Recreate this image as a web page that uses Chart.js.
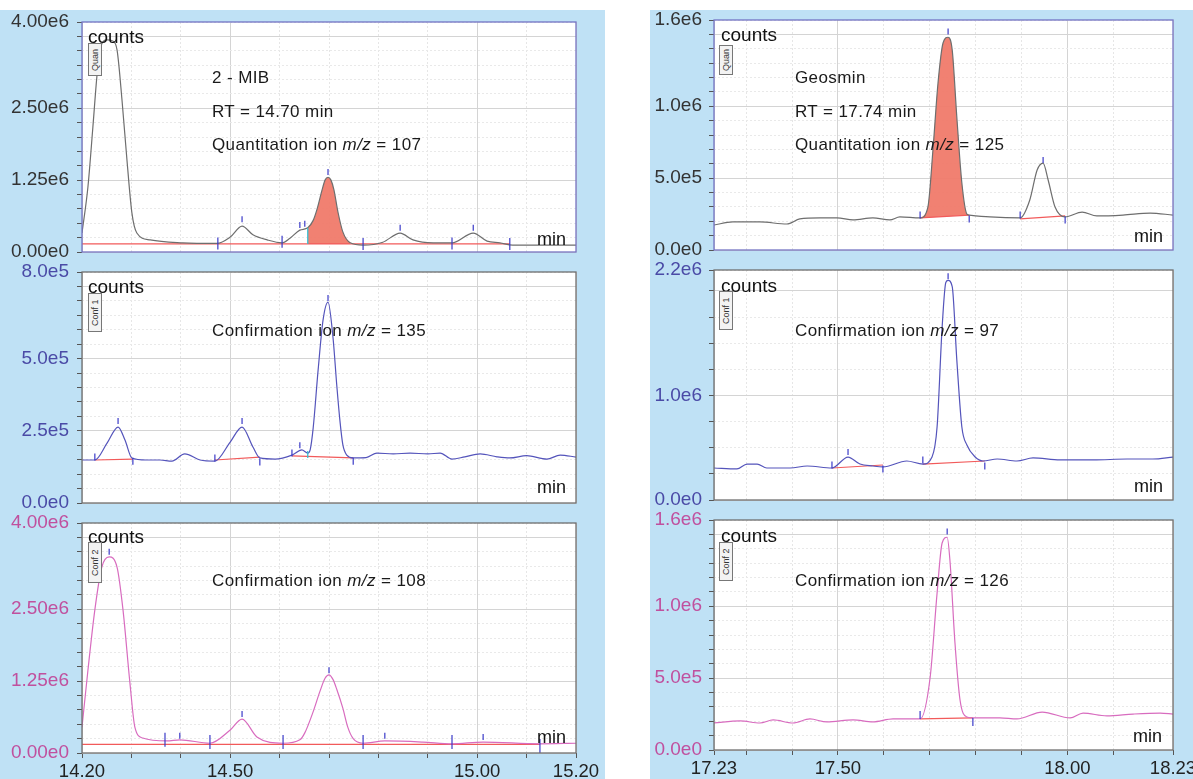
<!DOCTYPE html>
<html>
<head>
<meta charset="utf-8">
<script src="https://cdn.jsdelivr.net/npm/chart.js@4.4.1/dist/chart.umd.min.js"></script>
<style>
  html, body { margin: 0; padding: 0; background: #fff; overflow: hidden; }
  body { width: 1193px; height: 779px; position: relative; font-family: "Liberation Sans", Arial, sans-serif; }
  .panel { position: absolute; background: #bfe1f5; }
  canvas { position: absolute; }
  .txt { position: absolute; font-size: 17px; line-height: 17px; color: #1a1a1a; white-space: nowrap; letter-spacing: 0.4px; }
  .counts { position: absolute; font-size: 19px; line-height: 19px; color: #111; }
  .min { position: absolute; font-size: 18px; line-height: 18px; color: #111; }
  .tag { position: absolute; width: 14px; border: 1px solid #777; background: #f3f3f3; font-size: 9px;
         writing-mode: vertical-rl; transform: rotate(180deg); display: flex; align-items: center;
         justify-content: center; color: #333; box-sizing: border-box; }
</style>
</head>
<body>
<div class="panel" style="left:0;top:10px;width:605px;height:769px"></div>
<div class="panel" style="left:650px;top:10px;width:543px;height:769px"></div>

<canvas id="mibQuanChart" width="605" height="258" style="left:0;top:8px"></canvas>
<canvas id="mibConf1Chart" width="605" height="259" style="left:0;top:258px"></canvas>
<canvas id="mibConf2Chart" width="605" height="270" style="left:0;top:509px"></canvas>
<canvas id="geoQuanChart" width="543" height="258" style="left:650px;top:6px"></canvas>
<canvas id="geoConf1Chart" width="543" height="258" style="left:650px;top:256px"></canvas>
<canvas id="geoConf2Chart" width="543" height="273" style="left:650px;top:506px"></canvas>

<!-- labels inside the plots -->
<div class="counts" style="left:88px;top:27px">counts</div>
<div class="counts" style="left:88px;top:277px">counts</div>
<div class="counts" style="left:88px;top:527px">counts</div>
<div class="counts" style="left:721px;top:25px">counts</div>
<div class="counts" style="left:721px;top:276px">counts</div>
<div class="counts" style="left:721px;top:526px">counts</div>

<div class="tag" style="left:88px;top:43px;height:33px">Quan</div>
<div class="tag" style="left:88px;top:293px;height:39px">Conf 1</div>
<div class="tag" style="left:88px;top:542px;height:41px">Conf 2</div>
<div class="tag" style="left:719px;top:45px;height:30px">Quan</div>
<div class="tag" style="left:719px;top:291px;height:39px">Conf 1</div>
<div class="tag" style="left:719px;top:542px;height:39px">Conf 2</div>

<div class="txt" style="left:212px;top:69px">2 - MIB</div>
<div class="txt" style="left:212px;top:103px">RT = 14.70 min</div>
<div class="txt" style="left:212px;top:136px">Quantitation ion <i>m/z</i> = 107</div>
<div class="txt" style="left:212px;top:322px">Confirmation ion <i>m/z</i> = 135</div>
<div class="txt" style="left:212px;top:572px">Confirmation ion <i>m/z</i> = 108</div>
<div class="txt" style="left:795px;top:69px">Geosmin</div>
<div class="txt" style="left:795px;top:103px">RT = 17.74 min</div>
<div class="txt" style="left:795px;top:136px">Quantitation ion <i>m/z</i> = 125</div>
<div class="txt" style="left:795px;top:322px">Confirmation ion <i>m/z</i> = 97</div>
<div class="txt" style="left:795px;top:572px">Confirmation ion <i>m/z</i> = 126</div>

<div class="min" style="left:537px;top:230px">min</div>
<div class="min" style="left:537px;top:478px">min</div>
<div class="min" style="left:537px;top:728px">min</div>
<div class="min" style="left:1134px;top:227px">min</div>
<div class="min" style="left:1134px;top:477px">min</div>
<div class="min" style="left:1133px;top:727px">min</div>

<script>
// ---- time axes (min) ----
const mibTimeTicks = [14.2, 14.3, 14.4, 14.5, 14.6, 14.7, 14.8, 14.9, 15.0, 15.1, 15.2];
const mibTimeLabels = [14.2, 14.5, 15.0, 15.2];
const geoTimeTicks = [17.23, 17.3, 17.4, 17.5, 17.6, 17.7, 17.8, 17.9, 18.0, 18.1, 18.23];
const geoTimeLabels = [17.23, 17.5, 18.0, 18.23];

// ---- 2-MIB, quantitation ion 107 ----
const mibQuanTime = [14.200, 14.212, 14.222, 14.230, 14.236, 14.251, 14.262, 14.271, 14.281, 14.291, 14.301, 14.311, 14.338, 14.404, 14.473,
  14.500, 14.524, 14.546, 14.575, 14.605, 14.621, 14.641, 14.657, 14.668, 14.676, 14.686, 14.692, 14.698, 14.704, 14.710,
  14.718, 14.728, 14.743, 14.769, 14.809, 14.844, 14.870, 14.911, 14.949, 14.992, 15.020, 15.046, 15.072, 15.113, 15.200];
const mibQuanCounts = [0.33e6, 1.13e6, 2.17e6, 3.04e6, 3.51e6, 3.69e6, 3.67e6, 3.51e6, 2.64e6, 1.60e6, 0.68e6, 0.33e6, 0.21e6, 0.16e6, 0.15e6,
  0.26e6, 0.45e6, 0.30e6, 0.21e6, 0.16e6, 0.24e6, 0.38e6, 0.42e6, 0.55e6, 0.75e6, 1.08e6, 1.25e6, 1.30e6, 1.25e6, 1.08e6,
  0.70e6, 0.35e6, 0.16e6, 0.12e6, 0.17e6, 0.33e6, 0.21e6, 0.16e6, 0.16e6, 0.33e6, 0.19e6, 0.16e6, 0.12e6, 0.12e6, 0.12e6];
const mibQuanApex = [[14.524, 0.57e6], [14.641, 0.47e6], [14.651, 0.49e6], [14.698, 1.39e6], [14.844, 0.42e6], [14.992, 0.42e6]];
const mibQuanBounds = [[14.475, 0.15e6], [14.605, 0.18e6], [14.769, 0.14e6], [14.949, 0.15e6], [15.066, 0.14e6]];
const mibQuanBase = [[[14.20, 0.14e6], [15.066, 0.14e6]]];
const mibQuanCut = [[14.657, 0.14e6], [14.657, 0.42e6]];
const mibQuanPeak = [14.657, 14.743];

// ---- 2-MIB, confirmation ion 135 ----
const mibConf1Time = [14.200, 14.226, 14.251, 14.273, 14.287, 14.301, 14.330, 14.358, 14.382, 14.408, 14.439, 14.469, 14.500, 14.524, 14.546,
  14.560, 14.591, 14.625, 14.645, 14.657, 14.662, 14.668, 14.678, 14.688, 14.698, 14.708, 14.716, 14.722, 14.728, 14.736,
  14.749, 14.775, 14.797, 14.830, 14.864, 14.900, 14.925, 14.949, 14.975, 15.006, 15.040, 15.066, 15.100, 15.141, 15.168, 15.200];
const mibConf1Counts = [1.49e5, 1.49e5, 2.08e5, 2.63e5, 2.18e5, 1.56e5, 1.49e5, 1.49e5, 1.45e5, 1.70e5, 1.49e5, 1.45e5, 2.11e5, 2.63e5, 1.94e5,
  1.56e5, 1.52e5, 1.66e5, 1.84e5, 1.73e5, 1.85e5, 2.60e5, 4.61e5, 6.34e5, 6.96e5, 5.75e5, 4.02e5, 2.87e5, 2.02e5, 1.66e5,
  1.56e5, 1.57e5, 1.73e5, 1.70e5, 1.73e5, 1.70e5, 1.73e5, 1.52e5, 1.60e5, 1.70e5, 1.60e5, 1.56e5, 1.64e5, 1.52e5, 1.66e5, 1.59e5];
const mibConf1Apex = [[14.273, 2.84e5], [14.524, 2.84e5], [14.641, 2.00e5], [14.698, 7.10e5]];
const mibConf1Bounds = [[14.226, 1.59e5], [14.303, 1.45e5], [14.469, 1.56e5], [14.560, 1.42e5], [14.625, 1.73e5], [14.749, 1.45e5]];
const mibConf1Base = [[[14.226, 1.49e5], [14.303, 1.52e5]], [[14.469, 1.49e5], [14.560, 1.59e5]], [[14.625, 1.63e5], [14.749, 1.56e5]]];
const mibConf1Cut = [[14.657, 1.56e5], [14.657, 1.80e5]];

// ---- 2-MIB, confirmation ion 108 ----
const mibConf2Time = [14.200, 14.212, 14.226, 14.240, 14.255, 14.271, 14.283, 14.297, 14.307, 14.323, 14.372, 14.398, 14.459, 14.500, 14.524,
  14.554, 14.607, 14.641, 14.651, 14.668, 14.682, 14.692, 14.700, 14.708, 14.716, 14.728, 14.738, 14.749, 14.769, 14.813,
  14.890, 14.949, 15.012, 15.127, 15.200];
const mibConf2Counts = [0.45e6, 1.44e6, 2.49e6, 3.23e6, 3.41e6, 3.23e6, 2.49e6, 1.22e6, 0.45e6, 0.26e6, 0.21e6, 0.23e6, 0.17e6, 0.40e6, 0.59e6,
  0.28e6, 0.17e6, 0.23e6, 0.35e6, 0.72e6, 1.08e6, 1.30e6, 1.36e6, 1.28e6, 1.10e6, 0.78e6, 0.45e6, 0.25e6, 0.17e6, 0.21e6,
  0.19e6, 0.16e6, 0.19e6, 0.16e6, 0.17e6];
const mibConf2Apex = [[14.255, 3.50e6], [14.398, 0.30e6], [14.524, 0.68e6], [14.700, 1.44e6], [14.813, 0.30e6], [15.012, 0.28e6]];
const mibConf2Bounds = [[14.368, 0.23e6], [14.459, 0.19e6], [14.607, 0.19e6], [14.769, 0.19e6], [14.949, 0.19e6], [15.127, 0.12e6]];
const mibConf2Base = [[[14.20, 0.15e6], [15.127, 0.15e6]]];

// ---- Geosmin, quantitation ion 125 ----
const geoQuanTime = [17.230, 17.271, 17.330, 17.389, 17.417, 17.461, 17.498, 17.533, 17.576, 17.613, 17.635, 17.679, 17.696, 17.707, 17.718,
  17.729, 17.740, 17.749, 17.759, 17.770, 17.781, 17.786, 17.831, 17.897, 17.918, 17.934, 17.947, 17.958, 17.973, 17.995,
  18.032, 18.064, 18.121, 18.180, 18.230];
const geoQuanCounts = [1.74e5, 1.95e5, 1.95e5, 1.81e5, 2.16e5, 2.23e5, 2.23e5, 2.09e5, 2.23e5, 2.09e5, 2.30e5, 2.23e5, 2.99e5, 6.96e5, 11.6e5,
  14.4e5, 14.8e5, 13.9e5, 9.25e5, 4.66e5, 2.50e5, 2.43e5, 2.30e5, 2.23e5, 3.48e5, 5.57e5, 6.05e5, 4.87e5, 2.99e5, 2.30e5,
  2.64e5, 2.37e5, 2.43e5, 2.57e5, 2.43e5];
const geoQuanApex = [[17.740, 1.52e6], [17.947, 6.26e5]];
const geoQuanBounds = [[17.679, 2.43e5], [17.786, 2.16e5], [17.897, 2.43e5], [17.995, 2.09e5]];
const geoQuanBase = [[[17.679, 2.23e5], [17.786, 2.43e5]], [[17.897, 2.16e5], [17.995, 2.37e5]]];
const geoQuanPeak = [17.679, 17.786];

// ---- Geosmin, confirmation ion 97 ----
const geoConf1Time = [17.230, 17.280, 17.302, 17.324, 17.345, 17.396, 17.433, 17.487, 17.522, 17.548, 17.576, 17.598, 17.650, 17.685, 17.705,
  17.716, 17.727, 17.735, 17.740, 17.749, 17.759, 17.770, 17.781, 17.799, 17.816, 17.847, 17.890, 17.925, 17.984, 18.056,
  18.130, 18.186, 18.230];
const geoConf1Counts = [3.06e5, 2.97e5, 3.44e5, 3.44e5, 3.06e5, 3.06e5, 3.25e5, 3.06e5, 4.11e5, 3.44e5, 3.25e5, 3.16e5, 3.73e5, 3.44e5, 4.11e5,
  6.98e5, 16.5e5, 20.8e5, 21.0e5, 20.4e5, 13.4e5, 6.98e5, 5.26e5, 4.11e5, 3.73e5, 3.92e5, 3.73e5, 4.02e5, 3.83e5, 3.83e5,
  3.92e5, 3.92e5, 4.11e5];
const geoConf1Apex = [[17.522, 4.59e5], [17.740, 2.14e6]];
const geoConf1Bounds = [[17.487, 3.35e5], [17.598, 2.97e5], [17.685, 3.83e5], [17.820, 3.25e5]];
const geoConf1Base = [[[17.487, 3.06e5], [17.598, 3.35e5]], [[17.685, 3.44e5], [17.820, 3.73e5]]];

// ---- Geosmin, confirmation ion 126 ----
const geoConf2Time = [17.230, 17.287, 17.330, 17.359, 17.402, 17.439, 17.476, 17.533, 17.576, 17.620, 17.679, 17.701, 17.716, 17.727, 17.738,
  17.744, 17.755, 17.766, 17.781, 17.794, 17.853, 17.890, 17.945, 18.006, 18.034, 18.086, 18.143, 18.202, 18.230];
const geoConf2Counts = [1.88e5, 2.02e5, 1.88e5, 2.09e5, 1.88e5, 2.16e5, 1.95e5, 2.09e5, 1.95e5, 2.16e5, 2.16e5, 5.08e5, 10.9e5, 14.4e5, 14.8e5,
  13.2e5, 7.44e5, 3.48e5, 2.30e5, 2.23e5, 2.23e5, 2.16e5, 2.64e5, 2.23e5, 2.57e5, 2.37e5, 2.50e5, 2.57e5, 2.50e5];
const geoConf2Apex = [[17.738, 1.52e6]];
const geoConf2Bounds = [[17.679, 2.43e5], [17.794, 1.95e5]];
const geoConf2Base = [[[17.679, 2.16e5], [17.794, 2.23e5]]];

// ---- count axes ----
const bigCountLabels = [0, 1.25e6, 2.5e6, 4e6];
const conf135Labels = [0, 2.5e5, 5e5, 8e5];
const geoCountLabels = [0, 5e5, 1e6, 1.6e6];
const conf97Labels = [0, 1e6, 2.2e6];

Chart.defaults.font.family = '"Liberation Sans", Arial, sans-serif';

const GREY = '#6e6e6e', BLUE = '#5454bb', PINK = '#d86cbf';

const framePlugin = {
  id: 'frame',
  beforeDraw(chart) {
    const a = chart.chartArea, c = chart.ctx;
    c.save();
    c.fillStyle = '#fff';
    c.fillRect(a.left, a.top, a.right - a.left, a.bottom - a.top);
    c.restore();
  },
  afterDraw(chart, args, opts) {
    const a = chart.chartArea, c = chart.ctx;
    c.save();
    c.strokeStyle = opts.color;
    c.lineWidth = 1.3;
    c.strokeRect(a.left, a.top, a.right - a.left, a.bottom - a.top);
    c.restore();
  }
};

function countTicks(max, minor) {
  const t = [];
  for (let i = 0; i * minor < max - 1e-9; i++) t.push(i * minor);
  t.push(max);
  return t;
}
function onStep(v, step) {
  return Math.abs(v / step - Math.round(v / step)) < 1e-6;
}
function fmtCounts(v, digits) {
  return v.toExponential(digits).replace('+', '');
}
const toPts = pairs => pairs.map(p => ({ x: p[0], y: p[1] }));

function chromatogram(id, o) {
  const pts = o.time.map((t, i) => ({ x: t, y: o.counts[i] }));
  const ds = [];

  ds.push({ data: toPts(o.apex), showLine: false, pointStyle: 'line', pointRotation: 90, pointRadius: 3,
            pointBorderColor: '#3a3ac8', pointBorderWidth: 1.2, order: 0 });
  ds.push({ data: toPts(o.bounds), showLine: false, pointStyle: 'line', pointRotation: 90, pointRadius: o.boundLen,
            pointBorderColor: '#3a3ac8', pointBorderWidth: 1.2, order: 0 });
  if (o.cut) ds.push({ data: toPts(o.cut), borderColor: '#38bcd0', borderWidth: 1.3, pointRadius: 0, order: 0 });

  ds.push({ data: pts, borderColor: o.color, borderWidth: 1.2, pointRadius: 0,
            cubicInterpolationMode: 'monotone', order: 1 });

  const baseIdx = [];
  o.base.forEach(seg => {
    baseIdx.push(ds.length);
    ds.push({ data: toPts(seg), borderColor: '#f25a5a', borderWidth: 1.2, pointRadius: 0, order: 2 });
  });

  if (o.peak) {
    const sub = pts.filter(p => p.x >= o.peak[0] - 1e-9 && p.x <= o.peak[1] + 1e-9);
    ds.push({ data: sub, borderWidth: 0, pointRadius: 0, cubicInterpolationMode: 'monotone',
              backgroundColor: 'rgba(240,122,106,0.95)',
              fill: o.fillValue !== undefined ? { value: o.fillValue } : baseIdx[0], order: 3 });
  }

  const left = o.side === 'left';
  const xTicks = left ? mibTimeTicks : geoTimeTicks;
  const xLabels = left ? mibTimeLabels : geoTimeLabels;
  const yTicks = countTicks(o.yMax, o.yMinor);

  return new Chart(document.getElementById(id), {
    type: 'line',
    data: { datasets: ds },
    plugins: [framePlugin],
    options: {
      responsive: false,
      animation: false,
      events: [],
      layout: { padding: { left: 0, right: left ? 29 : 20, top: 14, bottom: o.bottom ? 0 : 14 } },
      plugins: { legend: { display: false }, tooltip: { enabled: false }, frame: { color: o.frame } },
      scales: {
        x: {
          type: 'linear',
          min: xTicks[0],
          max: xTicks[xTicks.length - 1],
          afterBuildTicks: s => { s.ticks = xTicks.map(v => ({ value: v })); },
          afterFit: s => { s.height = o.bottom ? (left ? 26 : 29) : 0; s.paddingLeft = 0; s.paddingRight = 0; },
          ticks: {
            display: !!o.bottom, autoSkip: false, maxRotation: 0, padding: 3, color: '#222',
            font: { size: 18.5 },
            callback: v => xLabels.includes(v) ? v.toFixed(2) : ''
          },
          grid: {
            color: c => (c.tick && xLabels.includes(c.tick.value)) ? '#d4d4d4' : '#e6e6e6',
            lineWidth: 1, drawTicks: !!o.bottom, tickLength: 5, tickColor: '#555', tickWidth: 1
          },
          border: { display: false, dash: c => (c.tick && !xLabels.includes(c.tick.value)) ? [2, 2] : [] }
        },
        y: {
          min: 0,
          max: o.yMax,
          afterBuildTicks: s => { s.ticks = yTicks.map(v => ({ value: v })); },
          afterFit: s => { s.width = left ? 82 : 64; s.paddingTop = 0; s.paddingBottom = 0; },
          ticks: {
            autoSkip: false, padding: left ? 8 : 7, color: o.labelColor,
            font: { size: 19 },
            callback: v => o.yLabels.includes(v) ? fmtCounts(v, o.digits) : ''
          },
          grid: {
            color: c => (c.tick && onStep(c.tick.value, o.yMajor)) ? '#d4d4d4' : '#e9e9e9',
            lineWidth: 1, tickLength: 5, tickColor: '#555', tickWidth: 1
          },
          border: { display: false, dash: c => (c.tick && !onStep(c.tick.value, o.yMajor)) ? [2, 2] : [] }
        }
      }
    }
  });
}

chromatogram('mibQuanChart', {
  side: 'left', time: mibQuanTime, counts: mibQuanCounts, color: GREY, labelColor: '#333', frame: '#7373c4',
  apex: mibQuanApex, bounds: mibQuanBounds, boundLen: 6, base: mibQuanBase, cut: mibQuanCut,
  peak: mibQuanPeak, fillValue: 0.14e6,
  yMax: 4e6, yMinor: 2.5e5, yMajor: 1.25e6, yLabels: bigCountLabels, digits: 2
});
chromatogram('mibConf1Chart', {
  side: 'left', time: mibConf1Time, counts: mibConf1Counts, color: BLUE, labelColor: '#4a4aa6', frame: '#6f6f6f',
  apex: mibConf1Apex, bounds: mibConf1Bounds, boundLen: 3.5, base: mibConf1Base, cut: mibConf1Cut,
  yMax: 8e5, yMinor: 5e4, yMajor: 2.5e5, yLabels: conf135Labels, digits: 1
});
chromatogram('mibConf2Chart', {
  side: 'left', bottom: true, time: mibConf2Time, counts: mibConf2Counts, color: PINK, labelColor: '#c0509e', frame: '#6f6f6f',
  apex: mibConf2Apex, bounds: mibConf2Bounds, boundLen: 7, base: mibConf2Base,
  yMax: 4e6, yMinor: 2.5e5, yMajor: 1.25e6, yLabels: bigCountLabels, digits: 2
});
chromatogram('geoQuanChart', {
  side: 'right', time: geoQuanTime, counts: geoQuanCounts, color: GREY, labelColor: '#333', frame: '#7373c4',
  apex: geoQuanApex, bounds: geoQuanBounds, boundLen: 3.5, base: geoQuanBase, peak: geoQuanPeak,
  yMax: 1.6e6, yMinor: 1e5, yMajor: 5e5, yLabels: geoCountLabels, digits: 1
});
chromatogram('geoConf1Chart', {
  side: 'right', time: geoConf1Time, counts: geoConf1Counts, color: BLUE, labelColor: '#4a4aa6', frame: '#6f6f6f',
  apex: geoConf1Apex, bounds: geoConf1Bounds, boundLen: 3.5, base: geoConf1Base,
  yMax: 2.2e6, yMinor: 2.5e5, yMajor: 1e6, yLabels: conf97Labels, digits: 1
});
chromatogram('geoConf2Chart', {
  side: 'right', bottom: true, time: geoConf2Time, counts: geoConf2Counts, color: PINK, labelColor: '#c0509e', frame: '#6f6f6f',
  apex: geoConf2Apex, bounds: geoConf2Bounds, boundLen: 4, base: geoConf2Base,
  yMax: 1.6e6, yMinor: 1e5, yMajor: 5e5, yLabels: geoCountLabels, digits: 1
});
</script>
</body>
</html>
